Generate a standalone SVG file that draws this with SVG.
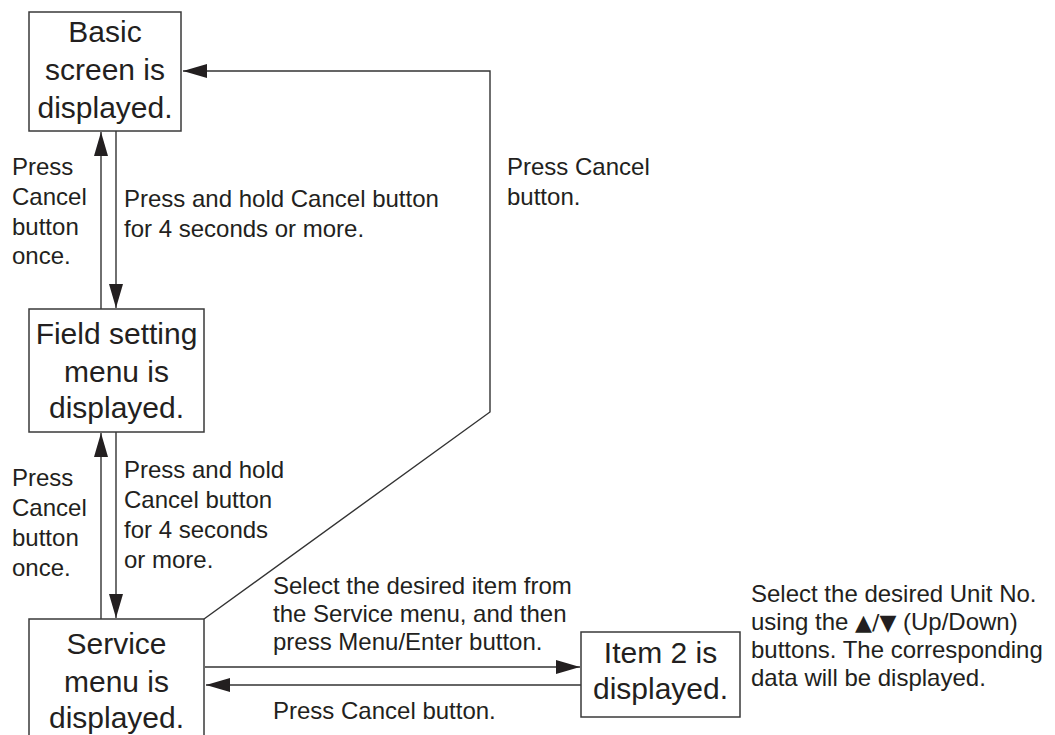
<svg xmlns="http://www.w3.org/2000/svg" width="1055" height="735" viewBox="0 0 1055 735">
<style>
.box{fill:#fff;stroke:#3a3a3a;stroke-width:1.5}
.big{font-family:"Liberation Sans",Arial,sans-serif;font-size:30px;fill:#231f20;text-anchor:middle}
.sm{font-family:"Liberation Sans",Arial,sans-serif;font-size:24px;fill:#231f20}
.tri{font-family:"DejaVu Sans",sans-serif;font-size:22px}
.ln{fill:none;stroke:#333;stroke-width:1.4}
</style>
<defs>
<marker id="ah" markerUnits="userSpaceOnUse" markerWidth="25" markerHeight="15" refX="24" refY="7" orient="auto">
<path d="M0,0 L24,7 L0,14 z" fill="#231f20"/>
</marker>
</defs>
<rect width="1055" height="735" fill="#fff"/>
<g id="connectors">
<polyline class="ln" points="204,619 490,412 490,71 183,71" marker-end="url(#ah)"/>
<line class="ln" x1="101" y1="309" x2="101" y2="132" marker-end="url(#ah)"/>
<line class="ln" x1="116" y1="131" x2="116" y2="308" marker-end="url(#ah)"/>
<line class="ln" x1="101" y1="619" x2="101" y2="433" marker-end="url(#ah)"/>
<line class="ln" x1="116" y1="432" x2="116" y2="618" marker-end="url(#ah)"/>
<line class="ln" x1="205" y1="667" x2="580" y2="667" marker-end="url(#ah)"/>
<line class="ln" x1="581" y1="685" x2="206" y2="685" marker-end="url(#ah)"/>
</g>
<g id="labels">
<text class="sm"><tspan x="507" y="175">Press Cancel</tspan><tspan x="507" y="205">button.</tspan></text>
<text class="sm"><tspan x="12" y="175">Press</tspan><tspan x="12" y="205">Cancel</tspan><tspan x="12" y="235">button</tspan><tspan x="12" y="264">once.</tspan></text>
<text class="sm"><tspan x="124" y="207">Press and hold Cancel button</tspan><tspan x="124" y="237">for 4 seconds or more.</tspan></text>
<text class="sm"><tspan x="12" y="486">Press</tspan><tspan x="12" y="516">Cancel</tspan><tspan x="12" y="546">button</tspan><tspan x="12" y="576">once.</tspan></text>
<text class="sm"><tspan x="124" y="478">Press and hold</tspan><tspan x="124" y="508">Cancel button</tspan><tspan x="124" y="538">for 4 seconds</tspan><tspan x="124" y="568">or more.</tspan></text>
<text class="sm"><tspan x="273" y="594">Select the desired item from</tspan><tspan x="273" y="622">the Service menu, and then</tspan><tspan x="273" y="650">press Menu/Enter button.</tspan></text>
<text class="sm"><tspan x="273" y="719">Press Cancel button.</tspan></text>
<text class="sm"><tspan x="751" y="602">Select the desired Unit No.</tspan><tspan x="751" y="630">using the <tspan class="tri">▲/▼</tspan> (Up/Down)</tspan><tspan x="751" y="658">buttons. The corresponding</tspan><tspan x="751" y="686">data will be displayed.</tspan></text>
</g>
<g id="basic">
<rect class="box" x="29" y="12" width="152" height="119"/>
<text class="big"><tspan x="105" y="42">Basic</tspan><tspan x="105" y="80">screen is</tspan><tspan x="105" y="118">displayed.</tspan></text>
</g>
<g id="field">
<rect class="box" x="29" y="309" width="175" height="123"/>
<text class="big"><tspan x="116.5" y="344">Field setting</tspan><tspan x="116.5" y="382">menu is</tspan><tspan x="116.5" y="418">displayed.</tspan></text>
</g>
<g id="service">
<rect class="box" x="29" y="619" width="175" height="130"/>
<text class="big"><tspan x="116.5" y="654">Service</tspan><tspan x="116.5" y="692">menu is</tspan><tspan x="116.5" y="728">displayed.</tspan></text>
</g>
<g id="item2">
<rect class="box" x="581" y="632" width="159" height="85"/>
<text class="big"><tspan x="660.5" y="663">Item 2 is</tspan><tspan x="660.5" y="699">displayed.</tspan></text>
</g>
</svg>
